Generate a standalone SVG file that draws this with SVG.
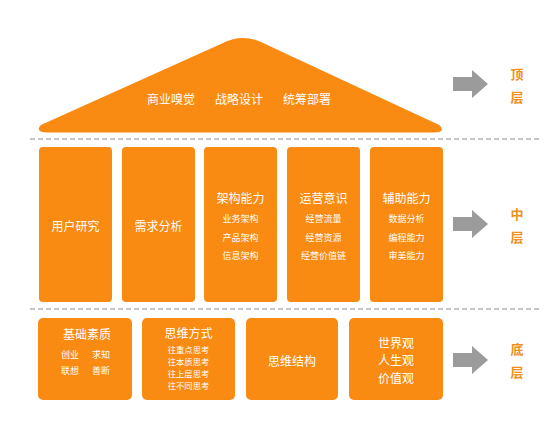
<svg xmlns="http://www.w3.org/2000/svg" width="554" height="437" viewBox="0 0 554 437">
<defs>
<style>
.box{fill:#F98A12;}
.t{font-family:"Noto Sans CJK SC","Noto Sans",sans-serif;fill:#FFFFFF;text-anchor:middle;dominant-baseline:central;}
.h{font-size:12px;}
.s{font-size:9px;}
.xs{font-size:8.3px;}
.lbl{font-family:"Noto Sans CJK SC","Noto Sans",sans-serif;fill:#F0901A;font-size:13px;font-weight:bold;text-anchor:middle;dominant-baseline:central;}
.dash{stroke:#8C8C8C;stroke-width:1.2;stroke-dasharray:5 3;fill:none;}
.arr{fill:#9B9B9B;}
</style>
</defs>
<rect width="554" height="437" fill="#FFFFFF"/>
<g id="connectors">
<line class="dash" x1="30" y1="139" x2="540" y2="139"/>
<line class="dash" x1="30" y1="309" x2="540" y2="309"/>
<path class="arr" d="M453,77 H472 V70 L488,84 L472,98 V91 H453 Z"/>
<path class="arr" d="M453,217 H472 V210 L488,224 L472,238 V231 H453 Z"/>
<path class="arr" d="M453,353 H472 V346 L488,360 L472,374 V367 H453 Z"/>
</g>
<g id="roof">
<path class="box" d="M47,131 Q37,131 42,126 L222,45 Q243,34 264,45 L438,126 Q444,131 435,131 Z" stroke="#F98A12" stroke-width="3" stroke-linejoin="round"/>
<text class="t h" x="171" y="98">商业嗅觉</text>
<text class="t h" x="239" y="98">战略设计</text>
<text class="t h" x="307" y="98">统筹部署</text>
</g>
<g id="label-top">
<text class="lbl" x="517" y="73">顶</text>
<text class="lbl" x="517" y="96">层</text>
</g>
<g id="label-mid">
<text class="lbl" x="517" y="213">中</text>
<text class="lbl" x="517" y="236">层</text>
</g>
<g id="label-bottom">
<text class="lbl" x="517" y="348">底</text>
<text class="lbl" x="517" y="371">层</text>
</g>
<g id="m1">
<rect class="box" x="39" y="147" width="73" height="155" rx="4"/>
<text class="t h" x="75.5" y="225">用户研究</text>
</g>
<g id="m2">
<rect class="box" x="122" y="147" width="73" height="155" rx="4"/>
<text class="t h" x="158.5" y="225">需求分析</text>
</g>
<g id="m3">
<rect class="box" x="204" y="147" width="73" height="155" rx="4"/>
<text class="t h" x="240.5" y="197">架构能力</text>
<text class="t s" x="240.5" y="218">业务架构</text>
<text class="t s" x="240.5" y="237">产品架构</text>
<text class="t s" x="240.5" y="255">信息架构</text>
</g>
<g id="m4">
<rect class="box" x="287" y="147" width="73" height="155" rx="4"/>
<text class="t h" x="323.5" y="197">运营意识</text>
<text class="t s" x="323.5" y="218">经营流量</text>
<text class="t s" x="323.5" y="237">经营资源</text>
<text class="t s" x="323.5" y="255">经营价值链</text>
</g>
<g id="m5">
<rect class="box" x="370" y="147" width="73" height="155" rx="4"/>
<text class="t h" x="406.5" y="197">辅助能力</text>
<text class="t s" x="406.5" y="218">数据分析</text>
<text class="t s" x="406.5" y="237">编程能力</text>
<text class="t s" x="406.5" y="255">审美能力</text>
</g>
<g id="b1">
<rect class="box" x="38" y="318" width="94" height="82" rx="5"/>
<text class="t h" x="87" y="333">基础素质</text>
<text class="t s" x="70" y="354">创业</text>
<text class="t s" x="101" y="354">求知</text>
<text class="t s" x="70" y="370">联想</text>
<text class="t s" x="101" y="370">善断</text>
</g>
<g id="b2">
<rect class="box" x="142" y="318" width="93" height="82" rx="5"/>
<text class="t h" x="188.5" y="332">思维方式</text>
<text class="t xs" x="188.5" y="348.5">往重点思考</text>
<text class="t xs" x="188.5" y="360.7">往本质思考</text>
<text class="t xs" x="188.5" y="372.9">往上层思考</text>
<text class="t xs" x="188.5" y="385.1">往不同思考</text>
</g>
<g id="b3">
<rect class="box" x="246" y="318" width="92" height="82" rx="5"/>
<text class="t h" x="292" y="360">思维结构</text>
</g>
<g id="b4">
<rect class="box" x="349" y="318" width="94" height="82" rx="5"/>
<text class="t h" x="396" y="342">世界观</text>
<text class="t h" x="396" y="359">人生观</text>
<text class="t h" x="396" y="377">价值观</text>
</g>
</svg>
